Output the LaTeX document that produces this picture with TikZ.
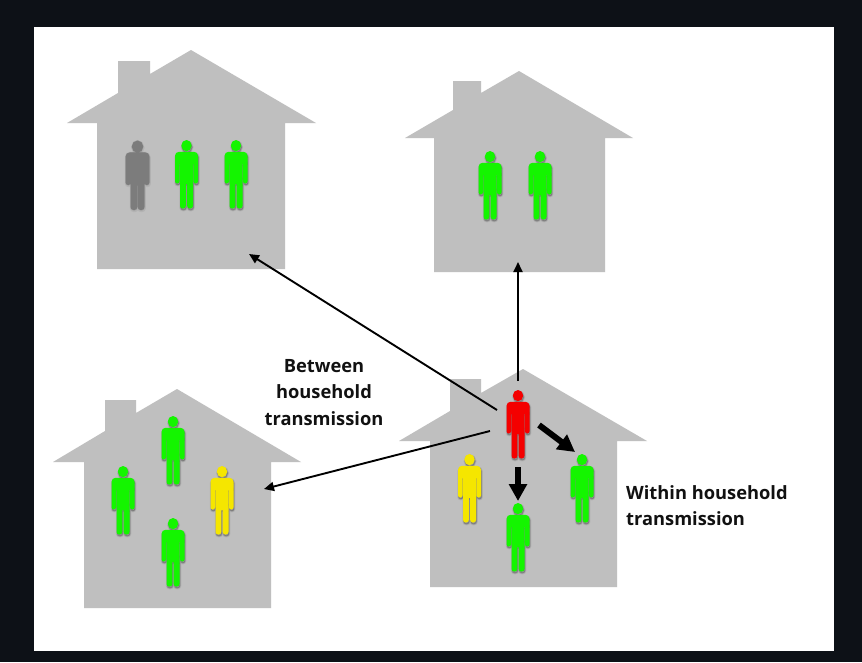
\documentclass[tikz,border=0pt]{standalone}
\usepackage{fontspec}
\setmainfont{Open Sans}
\usetikzlibrary{arrows.meta}
\definecolor{pagebg}{HTML}{0D1117}
\definecolor{housegray}{HTML}{BFBFBF}
\definecolor{pgreen}{HTML}{14F500}
\definecolor{pyellow}{HTML}{F5E600}
\definecolor{pred}{HTML}{F40000}
\definecolor{pgray}{HTML}{7C7C7C}
\definecolor{inktext}{HTML}{111111}
\tikzset{
  housefill/.style={fill=housegray,draw=none},
  thinarrow/.style={draw=black,line width=1.9pt,-{Triangle[length=10pt,width=9pt]}},
  thickarrow/.style={draw=black,line width=6pt,-{Triangle[length=17pt,width=17.5pt]}},
  personbox/.style={draw=none,inner sep=0pt,minimum width=23pt,minimum height=68pt},
  labeltext/.style={font=\bfseries\fontsize{18.3}{26.5}\selectfont,text=inktext,inner sep=0pt}
}
\newcommand{\personparts}{%
  (0,5.6) ellipse[x radius=5.2,y radius=5.6]
  [rounded corners=4pt] (-11.5,11.8) rectangle (11.5,24)
  [rounded corners=2.2pt] (-11.5,14) rectangle (-7,43.5)
  (7,14) rectangle (11.5,43.5)
  [rounded corners=1pt] (-6.5,11.8) rectangle (6.5,44)
  [rounded corners=2.6pt] (-6.5,36) rectangle (-0.7,68.5)
  (0.7,36) rectangle (6.5,68.5)
}
\newcommand{\person}[4]{% name, x, top y, colour
  \node[personbox] (#1) at (#2,#3+34) {};
  \begin{scope}[shift={(#2,#3)}]
    \path[fill=black,draw=black,line width=2.6pt,opacity=.07,shift={(0.6,1.6)}] \personparts;
    \path[fill=black,draw=black,line width=1.2pt,opacity=.13,shift={(0.6,1.6)}] \personparts;
    \path[fill=#4] \personparts;
  \end{scope}
}
\newcommand{\blurperson}[4]{% a softer figure
  \node[personbox] (#1) at (#2,#3+34) {};
  \begin{scope}[shift={(#2,#3)}]
    \path[fill=black,draw=black,line width=3pt,opacity=.06,shift={(0.4,1.2)}] \personparts;
    \path[fill=#4,draw=#4,line width=2pt,opacity=.25] \personparts;
    \path[fill=#4,draw=#4,line width=.9pt] \personparts;
  \end{scope}
}
\begin{document}
\begin{tikzpicture}[x=1pt,y=-1pt]
\useasboundingbox (0,0) rectangle (862,662);
\fill[pagebg] (0,0) rectangle (862,662);
\fill[white] (34,27) rectangle (834,651);
% houses
\fill[housefill] (191,50) -- (316,123) -- (285,123) -- (285,269) -- (97,269) -- (97,123) -- (67,123) -- (118,93) -- (118,61) -- (150,61) -- (150,74) -- cycle;
\fill[housefill] (519,71) -- (633,138) -- (605,138) -- (605,272) -- (434,272) -- (434,138) -- (405,138) -- (453,110) -- (453,81) -- (481,81) -- (481,93) -- cycle;
\fill[housefill] (177,389) -- (301,462) -- (271,462) -- (271,608) -- (84,608) -- (84,462) -- (53,462) -- (105,431) -- (105,400) -- (136,400) -- (136,413) -- cycle;
\fill[housefill] (523,369) -- (647,441) -- (617,441) -- (617,587) -- (430,587) -- (430,441) -- (399,441) -- (450,411) -- (450,379) -- (481,379) -- (481,393) -- cycle;
% people
\blurperson{pa}{137.5}{141}{pgray}
\person{pb}{186.5}{140}{pgreen}
\person{pc}{236}{140}{pgreen}
\person{pd}{490}{151}{pgreen}
\person{pe}{540}{151}{pgreen}
\person{pf}{173}{416}{pgreen}
\person{pg}{123}{466}{pgreen}
\person{ph}{222}{466}{pyellow}
\person{pi}{173}{518}{pgreen}
\person{red}{518}{390}{pred}
\person{py}{469.5}{454}{pyellow}
\person{pm}{518}{503}{pgreen}
\person{pr}{582}{454}{pgreen}
% arrow ends
\coordinate (tohouseA) at (249,254);
\coordinate (tohouseB) at (518,262);
\coordinate (tohouseC) at (264,489);
\coordinate (fromA) at (497,410);
\coordinate (fromB) at (518,381);
\coordinate (fromC) at (490,431);
\coordinate (fromD) at (539,425);
\coordinate (fromM) at (518,467);
\coordinate (toR) at (575,452);
\coordinate (toM) at (518,501);
\draw[thinarrow] (fromA) -- (tohouseA);
\draw[thinarrow] (fromB) -- (tohouseB);
\draw[thinarrow] (fromC) -- (tohouseC);
\draw[thickarrow] (fromD) -- (toR);
\draw[thickarrow] (fromM) -- (toM);
% labels
\node[labeltext,align=center] (between) at (324,392.5) {Between\\household\\transmission};
\node[labeltext,align=left,anchor=west] (within) at (626,505.5) {Within household\\transmission};
\end{tikzpicture}
\end{document}
